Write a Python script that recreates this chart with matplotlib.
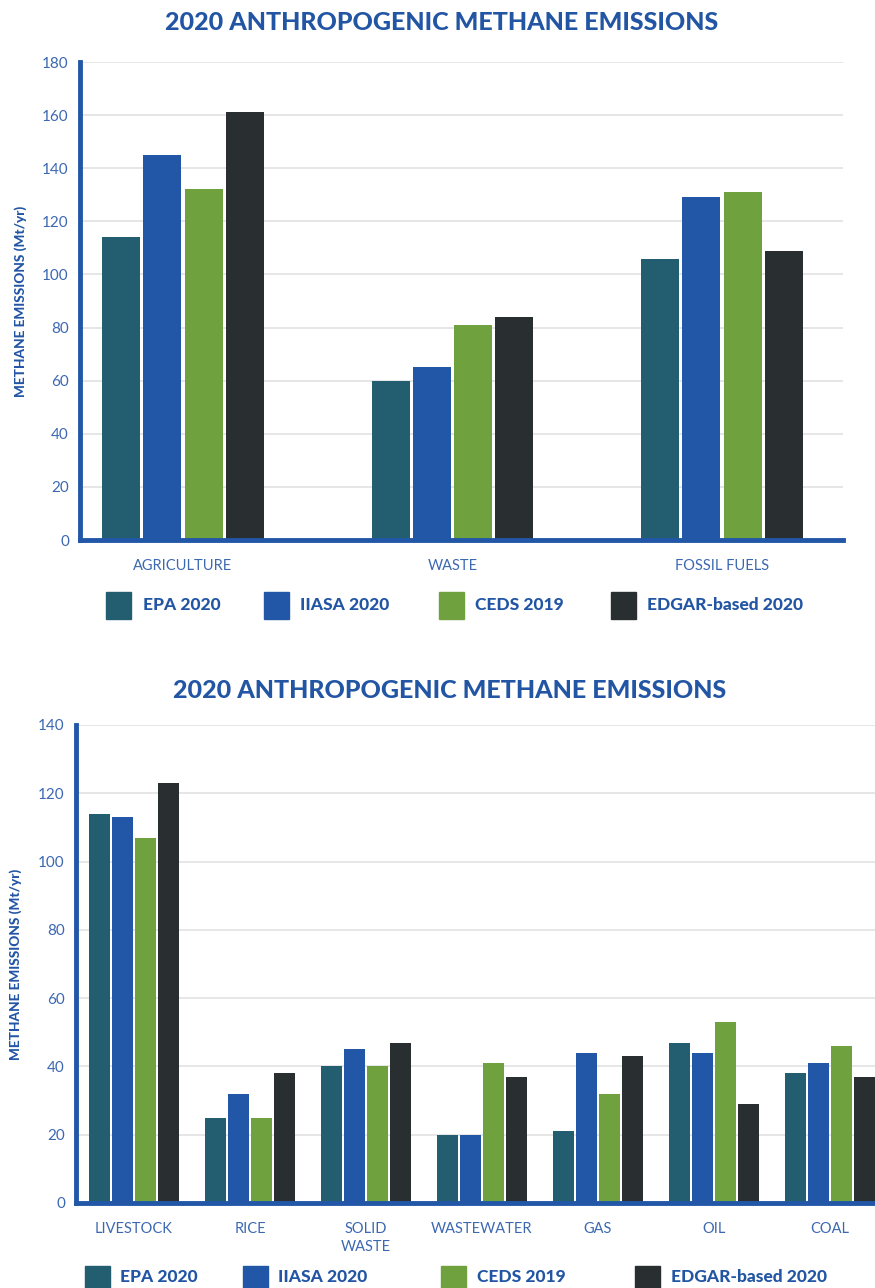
import matplotlib.pyplot as plt
from matplotlib.patches import Rectangle
import numpy as np

plt.rcParams['font.family'] = ['Lato', 'DejaVu Sans']

# data
series = ["EPA 2020", "IIASA 2020", "CEDS 2019", "EDGAR-based 2020"]
colors = ["#235e70", "#2257a8", "#6fa23f", "#292e31"]

top_categories = ["AGRICULTURE", "WASTE", "FOSSIL FUELS"]
top_epa = [114, 60, 106]
top_iiasa = [145, 65, 129]
top_ceds = [132, 81, 131]
top_edgar = [161, 84, 109]

bot_categories = ["LIVESTOCK", "RICE", "SOLID\nWASTE", "WASTEWATER", "GAS", "OIL", "COAL"]
bot_epa = [114, 25, 40, 20, 21, 47, 38]
bot_iiasa = [113, 32, 45, 20, 44, 44, 41]
bot_ceds = [107, 25, 40, 41, 32, 53, 46]
bot_edgar = [123, 38, 47, 37, 43, 29, 37]

title = "2020 ANTHROPOGENIC METHANE EMISSIONS"
ylabel = "METHANE EMISSIONS (Mt/yr)"
blue = "#2255a4"
tick_blue = "#3c68b2"
grid_col = "#e2e2e2"

W, H = 875, 1288
fig = plt.figure(figsize=(W / 100, H / 100), dpi=100)


def fx(px):
    return px / W


def fy(py):
    return 1 - py / H


def draw_panel(ax, cats, vals, width, step, ymax, ystep, xlim):
    x = np.arange(len(cats))
    for i, v in enumerate(vals):
        ax.bar(x + (i - 1.5) * step, v, width, color=colors[i], zorder=3)
    ax.set_xlim(*xlim)
    ax.set_ylim(0, ymax)
    ax.set_yticks(np.arange(0, ymax + 1, ystep))
    ax.set_xticks(x)
    ax.set_xticklabels(cats, color=tick_blue, fontsize=10.5, linespacing=1.3)
    ax.tick_params(axis='y', length=0, labelcolor=tick_blue, labelsize=11, pad=8)
    ax.tick_params(axis='x', length=0, pad=14)
    ax.grid(axis='y', color=grid_col, lw=1.2, zorder=0)
    for s in ["top", "right"]:
        ax.spines[s].set_visible(False)
    for s in ["left", "bottom"]:
        ax.spines[s].set_color("#2257a8")
        ax.spines[s].set_linewidth(3.5)
        ax.spines[s].set_zorder(4)
    ax.set_ylabel(ylabel, color=blue, fontsize=9.8, fontweight='black')


# top chart
ax1 = fig.add_axes([fx(80), fy(540), fx(843) - fx(80), fy(62) - fy(540)])
draw_panel(ax1, top_categories, [top_epa, top_iiasa, top_ceds, top_edgar],
           0.141, 0.153, 180, 20, (-0.382, 2.449))
ax1.yaxis.set_label_coords((fx(27) - fx(80)) / ax1.get_position().width, 0.5)
fig.text(fx(442), fy(22), title, ha='center', va='center', fontsize=18,
         fontweight='black', color=blue)

# bottom chart
ax2 = fig.add_axes([fx(76), fy(1203), 1 - fx(76), fy(725) - fy(1203)])
draw_panel(ax2, bot_categories, [bot_epa, bot_iiasa, bot_ceds, bot_edgar],
           0.182, 0.199, 140, 20, (-0.5, 6.39))
ax2.yaxis.set_label_coords((fx(22) - fx(76)) / ax2.get_position().width, 0.5)
fig.text(fx(450), fy(690), title, ha='center', va='center', fontsize=18,
         fontweight='black', color=blue)


# legends
def legend_row(sq_x, txt_x, y0, y1, ty):
    for i, name in enumerate(series):
        fig.patches.append(Rectangle((fx(sq_x[i]), fy(y1)), fx(25), fy(y0) - fy(y1),
                                     transform=fig.transFigure, color=colors[i]))
        fig.text(fx(txt_x[i]), fy(ty), name, ha='left', va='center', fontsize=12.5,
                 fontweight='black', color=blue)


legend_row([106, 264, 439, 611], [143, 300, 475, 647], 592, 619, 605)
legend_row([85, 243, 441, 635], [120, 278, 477, 671], 1266, 1295, 1277)

fig.savefig("out.png", dpi=100)
